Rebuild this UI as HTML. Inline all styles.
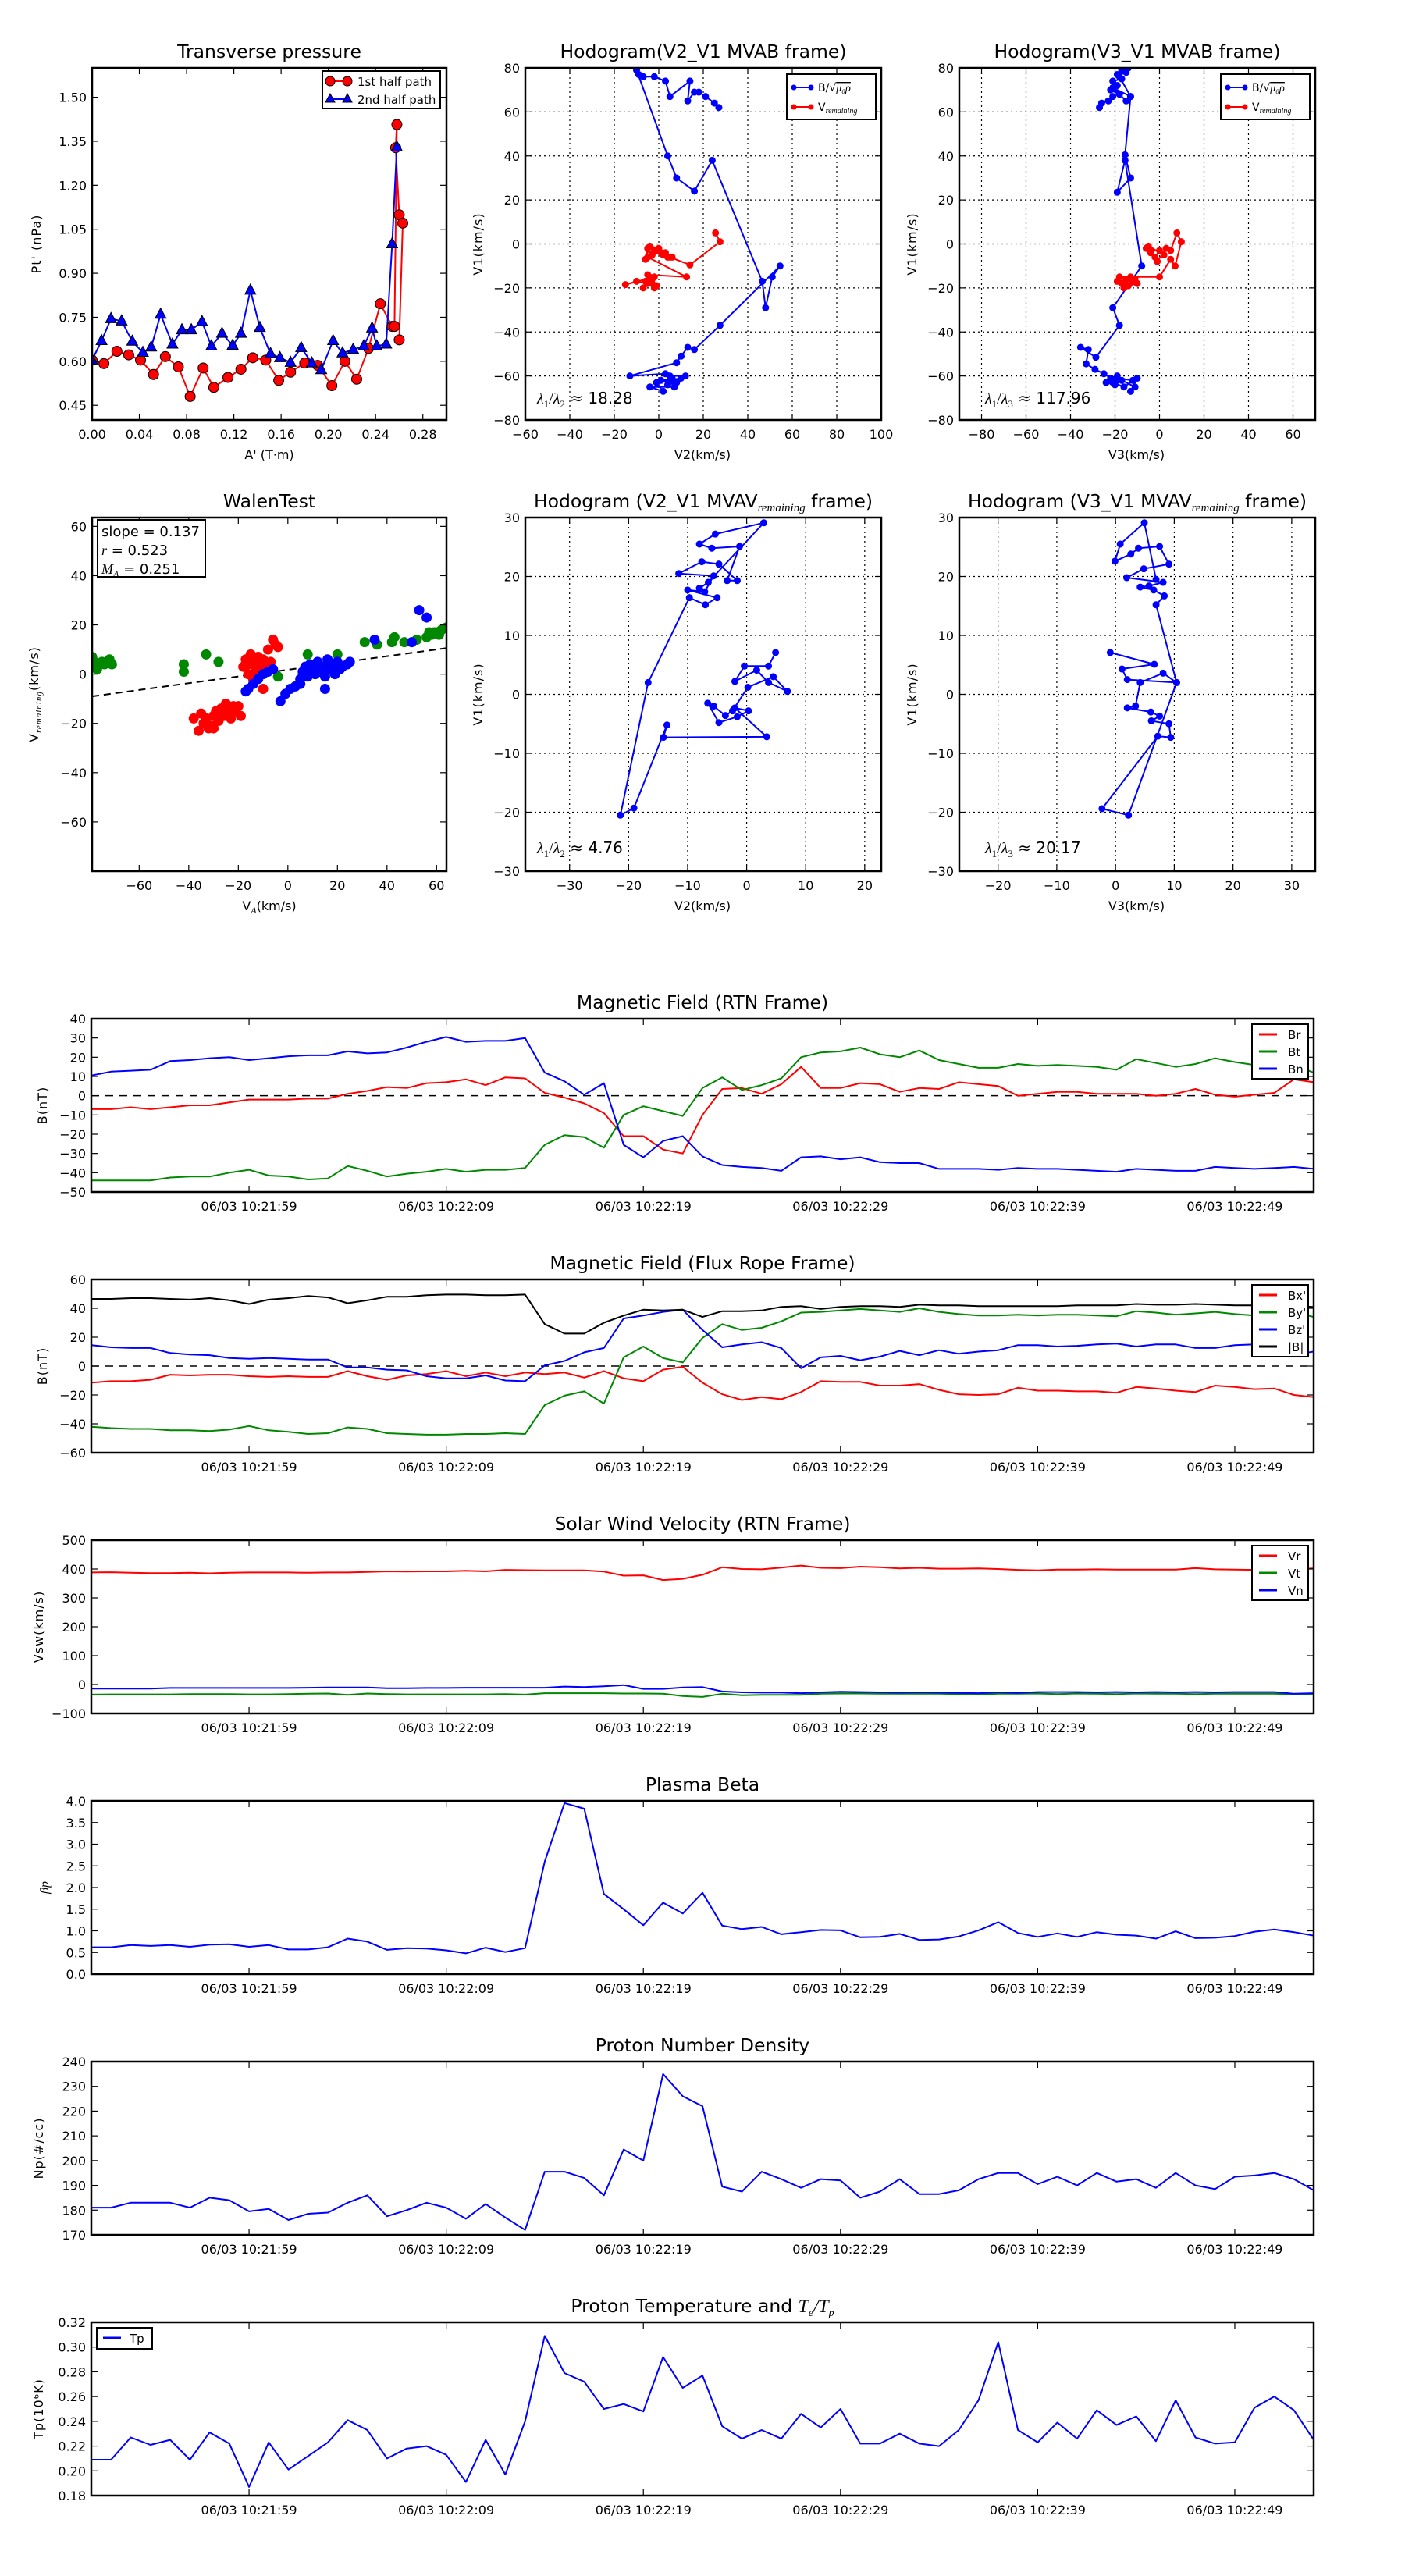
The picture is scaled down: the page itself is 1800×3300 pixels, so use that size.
<!DOCTYPE html>
<html><head><meta charset="utf-8"><style>
html,body{margin:0;padding:0;background:#fff;}
svg{display:block;font-family:"DejaVu Sans","Liberation Sans",sans-serif;}
</style></head><body>
<svg id="fig" xmlns="http://www.w3.org/2000/svg" width="1800" height="3300" viewBox="0 0 1800 3300">
<rect x="0" y="0" width="1800" height="3300" fill="#fff"/>
</svg>
<script>
// ---------- data ----------
const tpRedX=[0,.010,.021,.031,.041,.052,.062,.073,.083,.094,.103,.115,.126,.136,.147,.158,.168,.180,.191,.203,.214,.224,.234,.244,.254,.256,.258,.257,.260,.263,.260];
const tpRedY=[.604,.592,.634,.622,.604,.555,.616,.581,.480,.577,.511,.545,.573,.612,.604,.535,.563,.594,.586,.517,.600,.539,.644,.796,.719,.719,1.407,1.328,1.099,1.071,.673];
const tpBlueX=[0,.008,.016,.025,.034,.043,.050,.058,.068,.076,.084,.093,.101,.110,.119,.126,.134,.142,.151,.159,.168,.177,.186,.194,.204,.212,.221,.230,.237,.241,.249,.254,.258];
const tpBlueY=[.604,.670,.745,.737,.668,.630,.648,.760,.658,.707,.707,.735,.652,.695,.654,.695,.842,.715,.626,.612,.596,.646,.594,.571,.670,.628,.640,.652,.713,.652,.658,1.00,1.33];

const h1bX=[27,25,21,18,16,13,14,5,3,-2,-7,-9,-10,4,8,16,24,46.5,48,51,54.5,27.5,16,13,10,8,-13,3,6,1,8,4,10,-1,2,-4,7,12,5];
const h1bY=[62,64,67,69,69,65,74,67,74,76,76,77,79,40,30,24,38,-17,-29,-15,-10,-37,-48,-47,-51,-54,-60,-59,-61,-62,-63,-64,-61,-63,-67,-65,-65,-60,-60];
const h1rX=[25.5,27.5,14,5,2,-1,-3,-5,-6,-4,0,3,4,6,1,-2,-5,12.5,-5,-3,-6,-1,-3,-7,-2,-15,-10,-5,-4,-2];
const h1rY=[5,1,-9.5,-6,-5,-3,-5,-2,-7,-1,-2,-4,-6,-6,-4,-3,-6,-15,-14,-16,-17,-19,-18,-20,-15,-18.5,-17,-18,-16,-20];

const h2bX=[-27,-26,-23,-21,-18,-22,-19,-21,-17,-19,-15,-17,-14,-18,-13,-21,-15,-13,-15.5,-13,-19,-15.5,-8,-21,-18,-28.6,-35.5,-32,-33,-29,-25,-22,-19,-24,-20,-17,-21,-16,-10,-13,-11,-19,-12];
const h2bY=[62,64,65,67,68,70,72,74,75,77,78,79,80,76,67,71,65,67,40.5,30,23.5,38,-10,-29,-37,-51.5,-47,-48,-54.5,-57,-59,-61,-60,-63,-64,-62,-63,-65,-61,-67,-65,-61,-62];
const h2rX=[-3.7,-6,-4,-2,0,2,-5,-1,3,5,7.8,9.8,7,5,0,-18,-15,-12,-10,-14,-17,-16,-13,-11,-19,-15];
const h2rY=[-3,-2,-4,-6,-3,-5,-1,-8,-2,-3,5,1,-10,-7,-15,-15,-16,-17,-18,-19,-18,-20,-15,-16,-17,-19];

const wGreenX=[-79,-79,-78,-77,-76,-75,-74,-73,-72,-71,-42,-42,-33,-28,-4,8,20,31,36,42,43,47,52,56,57,58,59,60,62,64,61];
const wGreenY=[7,3,5,2,4,5,4,5,6,4,4,1,8,5,-1,8,8,13,12,13,15,13,14,15,17,16,17,17,18,19,16];
const wRedX=[-18,-17,-16,-15,-14,-13,-12,-11,-10,-9,-8,-7,-6,-5,-4,-14,-12,-10,-16,-13,-38,-36,-35,-34,-33,-32,-31,-30,-29,-28,-27,-26,-25,-24,-23,-22,-21,-20,-19,-30];
const wRedY=[3,6,4,8,5,2,7,4,6,2,10,5,14,12,11,-2,-1,-6,0,3,-18,-23,-16,-20,-18,-22,-21,-17,-15,-19,-14,-17,-12,-15,-18,-13,-15,-13,-17,-22];
const wBlueX=[-17,-16,-14,-12,-10,-8,-6,-3,-1,1,3,5,6,7,8,9,10,11,12,13,14,15,16,17,18,19,20,21,22,24,15,35,50,53,56,25,5];
const wBlueY=[-7,-6,-4,-2,0,1,2,-11,-8,-6,-5,-2,1,3,-1,4,2,0,5,1,3,-1,6,2,4,0,5,2,3,4,-6,14,13,26,23,5,-4];
const walenSlope=0.137, walenIntercept=1.8;

const m2X=[4.9,3.7,-0.4,-2,1.7,3.7,6.9,4.5,0.2,-2.4,-3.6,-5.6,-6.6,-4.7,-1.6,0.3,-2,3.4,-14.1,-13.5,-19.1,-21.4,-16.7,-9.7,-7,-5,-10,-7.1,-5.6,-11.5,-7.6,-4.7,-1.6,-3.3,-1.2,-5.9,-8,-5.3,2.9,-6.5,-8];
const m2Y=[7.1,4.8,4.8,2.2,4.1,2.0,0.5,3,1.2,-2.8,-3.6,-2,-1.5,-4.8,-3.8,-2.8,-2.3,-7.2,-7.3,-5.2,-19.3,-20.5,2.0,16.4,15.2,16.4,17.7,17.4,20.1,20.5,22.5,22.1,19.3,19.3,25.1,24.8,25.5,27.2,29.1,19,18];
const m3X=[-0.9,6.6,1.1,2,10.4,8.1,4.2,3.4,2,6,7.5,6.1,9.1,9.4,7.2,-2.3,2.2,10.4,6.9,8.3,6.5,4.2,5.7,8.1,1.9,4.8,9.1,7.5,3.9,2.6,-0.1,0.8,4.9,6.9];
const m3Y=[7.1,5.1,4.3,2.5,2,3.6,2,-2,-2.3,-3,-3.7,-4.5,-5,-7.3,-7.1,-19.4,-20.5,2,15.2,16.7,17.7,18.2,18.4,19,19.8,21.3,22.1,25.1,24.8,23.8,22.6,25.5,29.1,19.5];

const timeTickLabels=["06/03 10:21:59","06/03 10:22:09","06/03 10:22:19","06/03 10:22:29","06/03 10:22:39","06/03 10:22:49"];
const timeTickSec=[8,18,28,38,48,58];

const Br=[-7,-7,-6,-7,-6,-5,-5,-3.5,-2,-2,-2,-1.5,-1.5,1,2.5,4.5,4,6.5,7,8.5,5.5,9.5,9,1.5,-1,-4,-9,-21,-21,-28,-30,-10,3.5,4,1,6,15,4,4,6.5,6,2,4,3.5,7,6,5,0,1,2,2,1,1,1,0,1,3.5,0.5,-0.5,0.5,1.5,8.5,7];
const Bt=[-44,-44,-44,-44,-42.5,-42,-42,-40,-38.5,-41.5,-42,-43.5,-43,-36.5,-39,-42,-40.5,-39.5,-38,-39.5,-38.5,-38.5,-37.5,-25.5,-20.5,-21.5,-27,-10,-5.5,-8,-10.5,4,9.5,3,5.5,9,20,22.5,23,25,21.5,20,23.5,18.5,16.5,14.5,14.5,16.5,15.5,16,15.5,15,13.5,19,17,15,16.5,19.5,17.5,16,15,16,12];
const Bn=[10.5,12.5,13,13.5,18,18.5,19.5,20,18.5,19.5,20.5,21,21,23,22,22.5,25,28,30.5,28,28.5,28.5,30,12,7.5,0.5,6.5,-25.5,-32,-23.5,-21,-31.5,-36,-37,-37.5,-39,-32,-31.5,-33,-32,-34.5,-35,-35,-38,-38,-38,-38.5,-37.5,-38,-38,-38.5,-39,-39.5,-38,-38.5,-39,-39,-37,-37.5,-38,-37.5,-37,-38];

const Bmag=[46.5,46.5,47,47,46.5,46,47,45.5,43,46,47,48.5,47.5,43.5,45.5,48,48,49,49.5,49.5,49,49,49.5,29,22.5,22.5,30,35,39,38.5,39,34,38,38,38.5,41,41.5,39.5,41,41.5,41.5,41,42.5,42,42,41.5,41.5,41.5,41.5,41.5,42,42,42,43,42.5,42.5,43,42.5,42,42,41.5,41.5,41];
const By=[-42,-43,-43.5,-43.5,-44.5,-44.5,-45,-44,-41.5,-44.5,-45.5,-47,-46.5,-42.5,-43.5,-46.5,-47,-47.5,-47.5,-47,-47,-46.5,-47,-27,-20.5,-17.5,-26,6,13.5,5.5,2.5,19.5,29,25,26.5,31,37,37.5,38.5,39.5,38.5,37.5,40,37.5,36,35,35,35.5,35,35.5,35.5,35,34.5,38,37,35.5,36.5,37.5,36,35,36.5,37.5,34];
const Bz=[14.5,13,12.5,12.5,9,8,7.5,5.5,5,5.5,5,4.5,4.5,-1,-1,-2.5,-3,-7,-8.5,-8.5,-6.5,-10,-10.5,0.5,3.5,9.5,12.5,33,35,37.5,39,25,13,15,16.5,12.5,-1.5,6,7,4,6.5,10.5,7.5,11,8.5,10,11,14.5,14.5,13.5,14,15,15.5,13.5,15,15,12.5,12.5,14.5,15,14.5,8,10];
const Bx=[-11.5,-10.5,-10.5,-9.5,-6,-6.5,-6,-6,-7,-7.5,-7,-7.5,-7.5,-3.5,-7,-9.5,-6.5,-5.5,-3.5,-7,-4.5,-7,-4.5,-5.5,-4.5,-8,-3.5,-8.5,-10.5,-2.5,-0.5,-11.5,-19.5,-23.5,-21.5,-23,-18,-10.5,-11,-11,-13.5,-13.5,-12.5,-16.5,-19.5,-20,-19.5,-15,-17,-17,-17.5,-17.5,-18.5,-14.5,-15.5,-17,-18,-13.5,-14.5,-16,-15.5,-20,-21.5];

const Vr=[388,389,387,386,386,387,385,387,388,388,388,387,388,388,390,392,391,392,392,394,392,397,396,395,395,395,391,377,378,362,366,380,406,400,399,405,412,404,403,408,406,402,404,401,401,402,400,397,395,398,398,399,398,398,398,398,403,399,398,397,398,400,402];
const Vt=[-35,-34,-34,-34,-34,-33,-33,-33,-34,-34,-33,-32,-31,-36,-31,-33,-34,-34,-34,-34,-34,-33,-35,-30,-30,-30,-30,-31,-31,-32,-40,-43,-32,-37,-36,-36,-36,-32,-31,-31,-32,-32,-32,-32,-33,-34,-32,-32,-31,-33,-31,-32,-33,-31,-32,-32,-33,-32,-32,-32,-32,-34,-35];
const Vn=[-14,-14,-14,-14,-12,-12,-12,-12,-12,-12,-12,-11,-10,-10,-10,-13,-13,-12,-12,-11,-11,-11,-11,-11,-7,-9,-6,-2,-15,-15,-10,-9,-24,-27,-28,-28,-30,-27,-25,-26,-27,-28,-27,-28,-29,-30,-27,-29,-26,-26,-26,-27,-26,-27,-26,-27,-26,-27,-26,-26,-26,-32,-30];

const beta=[0.62,0.62,0.67,0.65,0.67,0.63,0.68,0.69,0.63,0.67,0.57,0.57,0.62,0.82,0.75,0.56,0.60,0.59,0.55,0.48,0.61,0.51,0.60,2.6,3.95,3.82,1.85,1.5,1.13,1.65,1.40,1.88,1.12,1.04,1.09,0.92,0.97,1.02,1.01,0.85,0.86,0.93,0.79,0.80,0.87,1.01,1.20,0.95,0.86,0.94,0.86,0.97,0.91,0.89,0.82,0.99,0.83,0.84,0.88,0.98,1.03,0.97,0.89];
const Np=[181,181,183,183,183,181,185,184,179.5,180.5,176,178.5,179,183,186,177.5,180,183,181,176.5,182.5,177,172,195.5,195.5,193,186,204.5,200,235,226,222,189.5,187.5,195.5,192.5,189,192.5,192,185,187.5,192.5,186.5,186.5,188,192.5,195,195,190.5,193.5,190,195,191.5,192.5,189,195,190,188.5,193.5,194,195,192.5,188];
const Tp=[0.209,0.209,0.227,0.221,0.225,0.209,0.231,0.222,0.187,0.223,0.201,0.212,0.223,0.241,0.233,0.210,0.218,0.220,0.213,0.191,0.225,0.197,0.240,0.309,0.279,0.272,0.250,0.254,0.248,0.292,0.267,0.277,0.236,0.226,0.233,0.226,0.246,0.235,0.250,0.222,0.222,0.230,0.222,0.220,0.233,0.257,0.304,0.233,0.223,0.239,0.226,0.249,0.237,0.244,0.224,0.257,0.227,0.222,0.223,0.251,0.260,0.249,0.225];

// ---------- drawing helpers ----------
const NS='http://www.w3.org/2000/svg';
const svg=document.getElementById('fig');
const TITLE_FS=23.5;
let clipId=0;
function mk(tag,attrs,name,parent){
  const e=document.createElementNS(NS,tag);
  for(const k in attrs) e.setAttribute(k,attrs[k]);
  
  
  (parent||svg).appendChild(e);
  return e;
}
function txt(x,y,s,o,name,parent){
  const t=mk('text',Object.assign({x:x,y:y,'font-size':16,fill:'#000'},o||{}),name,parent);
  t.textContent=s;
  return t;
}
function fmtNum(v,d){const s=v.toFixed(d);return s.replace('-','\u2212');}
function axes(o){
  const g=mk('g',{},o.name);
  const sx=v=>o.x+(v-o.xmin)/(o.xmax-o.xmin)*o.w;
  const sy=v=>o.y+o.h-(v-o.ymin)/(o.ymax-o.ymin)*o.h;
  const id='clip'+(clipId++);
  const cp=mk('clipPath',{id:id},'clip-region',g);
  mk('rect',{x:o.x,y:o.y,width:o.w,height:o.h},'clip-rect',cp);
  const xt=o.xticks, yt=o.yticks;
  if(o.grid){
    xt.forEach(v=>mk('line',{x1:sx(v),x2:sx(v),y1:o.y,y2:o.y+o.h,stroke:'#000','stroke-width':1.2,'stroke-dasharray':'2,4'},'x-grid-line',g));
    yt.forEach(v=>mk('line',{x1:o.x,x2:o.x+o.w,y1:sy(v),y2:sy(v),stroke:'#000','stroke-width':1.2,'stroke-dasharray':'2,4'},'y-grid-line',g));
  }
  const data=mk('g',{'clip-path':'url(#'+id+')'},'plot-area',g);
  return {g,data,sx,sy,o,
    finish(){
      const tl=8;
      xt.forEach((v,i)=>{
        mk('line',{x1:sx(v),x2:sx(v),y1:o.y+o.h,y2:o.y+o.h-tl,stroke:'#000','stroke-width':1.2},'x-tick',g);
        mk('line',{x1:sx(v),x2:sx(v),y1:o.y,y2:o.y+tl,stroke:'#000','stroke-width':1.2},'x-tick-top',g);
        txt(sx(v),o.y+o.h+24,o.xlabels?o.xlabels[i]:fmtNum(v,o.xd||0),{'text-anchor':'middle'},'x-tick-label',g);
      });
      yt.forEach(v=>{
        mk('line',{x1:o.x,x2:o.x+tl,y1:sy(v),y2:sy(v),stroke:'#000','stroke-width':1.2},'y-tick',g);
        mk('line',{x1:o.x+o.w,x2:o.x+o.w-tl,y1:sy(v),y2:sy(v),stroke:'#000','stroke-width':1.2},'y-tick-right',g);
        txt(o.x-7,sy(v)+6,fmtNum(v,o.yd||0),{'text-anchor':'end'},'y-tick-label',g);
      });
      mk('rect',{x:o.x,y:o.y,width:o.w,height:o.h,fill:'none',stroke:'#000','stroke-width':2.5},'axes-frame',g);
    }};
}
function poly(ax,xs,ys,color,name,w){
  const pts=xs.map((x,i)=>ax.sx(x).toFixed(1)+','+ax.sy(ys[i]).toFixed(1)).join(' ');
  return mk('polyline',{points:pts,fill:'none',stroke:color,'stroke-width':w||2,'stroke-linejoin':'round'},name,ax.data);
}
function dots(ax,xs,ys,color,r,name,stroke){
  xs.forEach((x,i)=>mk('circle',{cx:ax.sx(x),cy:ax.sy(ys[i]),r:r,fill:color,stroke:stroke||color,'stroke-width':1},name,ax.data));
}
function title(ax,parts,name){
  const t=mk('text',{x:ax.o.x+ax.o.w/2,y:ax.o.y-13,'font-size':TITLE_FS,'text-anchor':'middle',fill:'#000'},name);
  parts.forEach(p=>{
    const s=mk('tspan',p.sub?{'font-family':'Liberation Serif, serif','font-style':'italic','font-size':15,dy:5}:(p.after?{dy:-5}:{}),'title-part',t);
    s.textContent=p.t;
  });
  return t;
}
function ylabel(x,y,s,name,sub){
  const t=mk('text',{x:0,y:0,transform:'translate('+x+','+y+') rotate(-90)','font-size':16,'text-anchor':'middle','letter-spacing':'1'},name);
  if(sub){
    const a=mk('tspan',{},'label-part',t);a.textContent=sub[0];
    const b=mk('tspan',{'font-family':'Liberation Serif, serif','font-style':'italic','font-size':11,dy:4},'label-sub',t);b.textContent=sub[1];
    const c=mk('tspan',{dy:-4},'label-part',t);c.textContent=sub[2];
  } else t.textContent=s;
  return t;
}
function lambdaText(ax,x,y,den,val,name){
  const t=mk('text',{x:x,y:y,'font-size':20},name);
  const a=mk('tspan',{'font-family':'Liberation Serif, serif','font-style':'italic'},'lambda',t);a.textContent='λ';
  const b=mk('tspan',{'font-family':'Liberation Serif, serif','font-size':13,dy:5},'lambda-sub',t);b.textContent='1';
  const c=mk('tspan',{'font-family':'Liberation Serif, serif',dy:-5},'slash',t);c.textContent='/';
  const d=mk('tspan',{'font-family':'Liberation Serif, serif','font-style':'italic'},'lambda',t);d.textContent='λ';
  const e=mk('tspan',{'font-family':'Liberation Serif, serif','font-size':13,dy:5},'lambda-sub',t);e.textContent=den;
  const f=mk('tspan',{dy:-5},'lambda-value',t);f.textContent=' ≈ '+val;
}

// ---------- top row ----------
const PX=[118,673,1229], PW=454;
const R1Y=87,R1H=451,R2Y=663,R2H=453;

const a1=axes({name:'transverse-pressure-chart',x:PX[0],y:R1Y,w:PW,h:R1H,xmin:0,xmax:0.3,ymin:0.4,ymax:1.6,
  xticks:[0,.04,.08,.12,.16,.2,.24,.28],yticks:[.45,.6,.75,.9,1.05,1.2,1.35,1.5],xd:2,yd:2});
poly(a1,tpRedX,tpRedY,'#f00','first-half-line');
poly(a1,tpBlueX,tpBlueY,'#00f','second-half-line');
dots(a1,tpRedX,tpRedY,'#f00',6.5,'first-half-marker','#000');
tpBlueX.forEach((x,i)=>{const cx=a1.sx(x),cy=a1.sy(tpBlueY[i]);
  mk('polygon',{points:`${cx},${cy-8} ${cx-7},${cy+5} ${cx+7},${cy+5}`,fill:'#00f',stroke:'#000','stroke-width':1},'second-half-marker',a1.data);});
a1.finish();
title(a1,[{t:'Transverse pressure'}],'transverse-pressure-title');
txt(PX[0]+PW/2,R1Y+R1H+50,"A' (T·m)",{'text-anchor':'middle'},'x-axis-title');
ylabel(52,R1Y+R1H/2,"Pt' (nPa)",'y-axis-title');
{
  const lg=mk('g',{},'legend');
  mk('rect',{x:413,y:91,width:151,height:48,fill:'#fff',stroke:'#000','stroke-width':2},'legend-box',lg);
  mk('line',{x1:423,x2:445,y1:104,y2:104,stroke:'#f00','stroke-width':2},'legend-line',lg);
  mk('circle',{cx:423,cy:104,r:6,fill:'#f00',stroke:'#000'},'legend-marker',lg);
  mk('circle',{cx:445,cy:104,r:6,fill:'#f00',stroke:'#000'},'legend-marker',lg);
  txt(458,110,'1st half path',{'font-size':15},'legend-entry',lg);
  mk('line',{x1:423,x2:445,y1:127,y2:127,stroke:'#00f','stroke-width':2},'legend-line',lg);
  mk('polygon',{points:'423,120 417,131 429,131',fill:'#00f',stroke:'#000'},'legend-marker',lg);
  mk('polygon',{points:'445,120 439,131 451,131',fill:'#00f',stroke:'#000'},'legend-marker',lg);
  txt(458,133,'2nd half path',{'font-size':15},'legend-entry',lg);
}

function hodoLegend(x){
  const lg=mk('g',{},'legend');
  mk('rect',{x:x,y:95,width:114,height:58,fill:'#fff',stroke:'#000','stroke-width':2},'legend-box',lg);
  mk('line',{x1:x+9,x2:x+31,y1:112,y2:112,stroke:'#00f','stroke-width':2},'legend-line',lg);
  mk('circle',{cx:x+9,cy:112,r:3.5,fill:'#00f'},'legend-marker',lg);
  mk('circle',{cx:x+31,cy:112,r:3.5,fill:'#00f'},'legend-marker',lg);
  const t=txt(x+40,117,'B/√',{'font-size':14},'legend-entry',lg);
  const s=mk('tspan',{'font-family':'Liberation Serif, serif','font-style':'italic','text-decoration':'overline'},'legend-math',t);s.textContent='μ₀ρ';
  mk('line',{x1:x+9,x2:x+31,y1:137,y2:137,stroke:'#f00','stroke-width':2},'legend-line',lg);
  mk('circle',{cx:x+9,cy:137,r:3.5,fill:'#f00'},'legend-marker',lg);
  mk('circle',{cx:x+31,cy:137,r:3.5,fill:'#f00'},'legend-marker',lg);
  const t2=txt(x+40,142,'V',{'font-size':14},'legend-entry',lg);
  const s2=mk('tspan',{'font-family':'Liberation Serif, serif','font-style':'italic','font-size':10,dy:3},'legend-sub',t2);s2.textContent='remaining';
}

const a2=axes({name:'hodogram-v2-v1-mvab',x:PX[1],y:R1Y,w:PW+2,h:R1H,xmin:-60,xmax:100,ymin:-80,ymax:80,grid:true,
  xticks:[-60,-40,-20,0,20,40,60,80,100],yticks:[-80,-60,-40,-20,0,20,40,60,80]});
poly(a2,h1bX,h1bY,'#00f','b-field-path');dots(a2,h1bX,h1bY,'#00f',4,'b-field-point');
poly(a2,h1rX,h1rY,'#f00','velocity-path');dots(a2,h1rX,h1rY,'#f00',4,'velocity-point');
a2.finish();
title(a2,[{t:'Hodogram(V2_V1 MVAB frame)'}],'hodogram-v2-title');
txt(PX[1]+PW/2,R1Y+R1H+50,'V2(km/s)',{'text-anchor':'middle'},'x-axis-title');
ylabel(618,R1Y+R1H/2,'V1(km/s)','y-axis-title');
hodoLegend(1008);
lambdaText(a2,688,517,'2','18.28','eigenvalue-ratio');

const a3=axes({name:'hodogram-v3-v1-mvab',x:PX[2],y:R1Y,w:PW+2,h:R1H,xmin:-90,xmax:70,ymin:-80,ymax:80,grid:true,
  xticks:[-80,-60,-40,-20,0,20,40,60],yticks:[-80,-60,-40,-20,0,20,40,60,80]});
poly(a3,h2bX,h2bY,'#00f','b-field-path');dots(a3,h2bX,h2bY,'#00f',4,'b-field-point');
poly(a3,h2rX,h2rY,'#f00','velocity-path');dots(a3,h2rX,h2rY,'#f00',4,'velocity-point');
a3.finish();
title(a3,[{t:'Hodogram(V3_V1 MVAB frame)'}],'hodogram-v3-title');
txt(PX[2]+PW/2,R1Y+R1H+50,'V3(km/s)',{'text-anchor':'middle'},'x-axis-title');
ylabel(1174,R1Y+R1H/2,'V1(km/s)','y-axis-title');
hodoLegend(1564);
lambdaText(a3,1262,517,'3','117.96','eigenvalue-ratio');

const a4=axes({name:'walen-test-chart',x:PX[0],y:R2Y,w:PW,h:R2H,xmin:-79,xmax:64,ymin:-80,ymax:63.6,
  xticks:[-60,-40,-20,0,20,40,60],yticks:[-60,-40,-20,0,20,40,60]});
mk('line',{x1:a4.sx(-79),y1:a4.sy(walenSlope*-79+walenIntercept),x2:a4.sx(64),y2:a4.sy(walenSlope*64+walenIntercept),stroke:'#000','stroke-width':2,'stroke-dasharray':'9,6'},'fit-line',a4.data);
dots(a4,wGreenX,wGreenY,'#080',6,'green-point');
dots(a4,wRedX,wRedY,'#f00',6,'red-point');
dots(a4,wBlueX,wBlueY,'#00f',6,'blue-point');
a4.finish();
title(a4,[{t:'WalenTest'}],'walen-test-title');
{
  const t=txt(PX[0]+PW/2,R2Y+R2H+50,'V',{'text-anchor':'middle'},'x-axis-title');
  const s=mk('tspan',{'font-family':'Liberation Serif, serif','font-style':'italic','font-size':12,dy:4},'label-sub',t);s.textContent='A';
  const s2=mk('tspan',{dy:-4},'label-part',t);s2.textContent='(km/s)';
}
ylabel(49,R2Y+R2H/2,'',"y-axis-title",['V','remaining','(km/s)']);
{
  const bx=mk('g',{},'stats-box');
  mk('rect',{x:125,y:666,width:138,height:73,fill:'#fff',stroke:'#000','stroke-width':2},'stats-frame',bx);
  txt(130,687,'slope = 0.137',{'font-size':18},'slope-text',bx);
  const r=txt(130,711,'',{'font-size':18},'r-text',bx);
  const r1=mk('tspan',{'font-family':'Liberation Serif, serif','font-style':'italic'},'r-symbol',r);r1.textContent='r';
  const r2=mk('tspan',{},'r-value',r);r2.textContent=' = 0.523';
  const m=txt(130,735,'',{'font-size':18},'ma-text',bx);
  const m1=mk('tspan',{'font-family':'Liberation Serif, serif','font-style':'italic'},'ma-symbol',m);m1.textContent='M';
  const m2=mk('tspan',{'font-family':'Liberation Serif, serif','font-style':'italic','font-size':12,dy:4},'ma-sub',m);m2.textContent='A';
  const m3=mk('tspan',{dy:-4},'ma-value',m);m3.textContent=' = 0.251';
}

const a5=axes({name:'hodogram-v2-v1-mvav',x:PX[1],y:R2Y,w:PW+2,h:R2H,xmin:-37.5,xmax:22.8,ymin:-30,ymax:30,grid:true,
  xticks:[-30,-20,-10,0,10,20],yticks:[-30,-20,-10,0,10,20,30]});
poly(a5,m2X,m2Y,'#00f','b-field-path');dots(a5,m2X,m2Y,'#00f',4,'b-field-point');
a5.finish();
title(a5,[{t:'Hodogram (V2_V1 MVAV'},{t:'remaining',sub:true},{t:' frame)',after:true}],'hodogram-mvav-v2-title');
txt(PX[1]+PW/2,R2Y+R2H+50,'V2(km/s)',{'text-anchor':'middle'},'x-axis-title');
ylabel(618,R2Y+R2H/2,'V1(km/s)','y-axis-title');
lambdaText(a5,688,1093,'2','4.76','eigenvalue-ratio');

const a6=axes({name:'hodogram-v3-v1-mvav',x:PX[2],y:R2Y,w:PW+2,h:R2H,xmin:-26.6,xmax:34,ymin:-30,ymax:30,grid:true,
  xticks:[-20,-10,0,10,20,30],yticks:[-30,-20,-10,0,10,20,30]});
poly(a6,m3X,m3Y,'#00f','b-field-path');dots(a6,m3X,m3Y,'#00f',4,'b-field-point');
a6.finish();
title(a6,[{t:'Hodogram (V3_V1 MVAV'},{t:'remaining',sub:true},{t:' frame)',after:true}],'hodogram-mvav-v3-title');
txt(PX[2]+PW/2,R2Y+R2H+50,'V3(km/s)',{'text-anchor':'middle'},'x-axis-title');
ylabel(1174,R2Y+R2H/2,'V1(km/s)','y-axis-title');
lambdaText(a6,1262,1093,'3','20.17','eigenvalue-ratio');

// ---------- time series ----------
const TX=117,TW=1566,TH=222,TS0=1305,TSD=334;
const tIdx=Br.map((_,i)=>i);
function tsTop(i){return TS0+TSD*i;}
function tsPanel(i,o){
  const ax=axes(Object.assign({x:TX,y:tsTop(i),w:TW,h:TH,xmin:0,xmax:62,xticks:timeTickSec,xlabels:timeTickLabels},o));
  return ax;
}
function tsLegend(x,y,entries,name){
  const lg=mk('g',{},name);
  mk('rect',{x:x,y:y,width:72,height:entries.length*22+4,fill:'#fff',stroke:'#000','stroke-width':2},'legend-box',lg);
  entries.forEach((e,k)=>{
    mk('line',{x1:x+9,x2:x+32,y1:y+13+k*22,y2:y+13+k*22,stroke:e[1],'stroke-width':3},'legend-line',lg);
    txt(x+46,y+19+k*22,e[0],{'font-size':15},'legend-entry',lg);
  });
}
function zeroLine(ax){mk('line',{x1:ax.o.x,x2:ax.o.x+ax.o.w,y1:ax.sy(0),y2:ax.sy(0),stroke:'#000','stroke-width':1.5,'stroke-dasharray':'10,8'},'zero-line',ax.data);}

const t1=tsPanel(0,{name:'magnetic-field-rtn-chart',ymin:-50,ymax:40,yticks:[-50,-40,-30,-20,-10,0,10,20,30,40]});
zeroLine(t1);poly(t1,tIdx,Br,'#f00','br-line');poly(t1,tIdx,Bt,'#080','bt-line');poly(t1,tIdx,Bn,'#00f','bn-line');
t1.finish();title(t1,[{t:'Magnetic Field (RTN Frame)'}],'magnetic-field-rtn-title');
ylabel(60,tsTop(0)+TH/2,'B(nT)','y-axis-title');
tsLegend(1604,tsTop(0)+7,[['Br','#f00'],['Bt','#080'],['Bn','#00f']],'legend');

const t2=tsPanel(1,{name:'magnetic-field-flux-rope-chart',ymin:-60,ymax:60,yticks:[-60,-40,-20,0,20,40,60]});
zeroLine(t2);poly(t2,tIdx,Bx,'#f00','bx-line');poly(t2,tIdx,By,'#080','by-line');poly(t2,tIdx,Bz,'#00f','bz-line');poly(t2,tIdx,Bmag,'#000','bmag-line');
t2.finish();title(t2,[{t:'Magnetic Field (Flux Rope Frame)'}],'magnetic-field-flux-rope-title');
ylabel(60,tsTop(1)+TH/2,'B(nT)','y-axis-title');
tsLegend(1604,tsTop(1)+7,[["Bx'",'#f00'],["By'",'#080'],["Bz'",'#00f'],['|B|','#000']],'legend');

const t3=tsPanel(2,{name:'solar-wind-velocity-chart',ymin:-100,ymax:500,yticks:[-100,0,100,200,300,400,500]});
poly(t3,tIdx,Vr,'#f00','vr-line');poly(t3,tIdx,Vt,'#080','vt-line');poly(t3,tIdx,Vn,'#00f','vn-line');
t3.finish();title(t3,[{t:'Solar Wind Velocity (RTN Frame)'}],'solar-wind-velocity-title');
ylabel(55,tsTop(2)+TH/2,'Vsw(km/s)','y-axis-title');
tsLegend(1604,tsTop(2)+7,[['Vr','#f00'],['Vt','#080'],['Vn','#00f']],'legend');

const t4=tsPanel(3,{name:'plasma-beta-chart',ymin:0,ymax:4,yticks:[0,.5,1,1.5,2,2.5,3,3.5,4],yd:1});
poly(t4,tIdx,beta,'#00f','beta-line');
t4.finish();title(t4,[{t:'Plasma Beta'}],'plasma-beta-title');
{const t=mk('text',{x:0,y:0,transform:'translate(62,'+(tsTop(3)+TH/2)+') rotate(-90)','font-size':16,'text-anchor':'middle','font-family':'Liberation Serif, serif','font-style':'italic'},'y-axis-title');t.textContent='βp';}

const t5=tsPanel(4,{name:'proton-density-chart',ymin:170,ymax:240,yticks:[170,180,190,200,210,220,230,240]});
poly(t5,tIdx,Np,'#00f','density-line');
t5.finish();title(t5,[{t:'Proton Number Density'}],'proton-density-title');
ylabel(55,tsTop(4)+TH/2,'Np(#/cc)','y-axis-title');

const t6=tsPanel(5,{name:'proton-temperature-chart',ymin:0.18,ymax:0.32,yticks:[.18,.2,.22,.24,.26,.28,.3,.32],yd:2});
poly(t6,tIdx,Tp,'#00f','temperature-line');
t6.finish();
{
  const t=mk('text',{x:TX+TW/2,y:tsTop(5)-13,'font-size':TITLE_FS,'text-anchor':'middle'},'proton-temperature-title');
  const a=mk('tspan',{},'title-part',t);a.textContent='Proton Temperature and ';
  const b=mk('tspan',{'font-family':'Liberation Serif, serif','font-style':'italic'},'title-math',t);b.textContent='T';
  const c=mk('tspan',{'font-family':'Liberation Serif, serif','font-style':'italic','font-size':14,dy:5},'title-sub',t);c.textContent='e';
  const d=mk('tspan',{'font-family':'Liberation Serif, serif','font-style':'italic',dy:-5},'title-math',t);d.textContent='/T';
  const e=mk('tspan',{'font-family':'Liberation Serif, serif','font-style':'italic','font-size':14,dy:5},'title-sub',t);e.textContent='p';
}
ylabel(55,tsTop(5)+TH/2,'Tp(10⁶K)','y-axis-title');
{
  const ly=tsTop(5)+7;
  const lg=mk('g',{},'legend');
  mk('rect',{x:124,y:ly,width:71,height:27,fill:'#fff',stroke:'#000','stroke-width':2},'legend-box',lg);
  mk('line',{x1:132,x2:155,y1:ly+13,y2:ly+13,stroke:'#00f','stroke-width':3},'legend-line',lg);
  txt(166,ly+19,'Tp',{'font-size':15},'legend-entry',lg);
}
</script>
</body></html>
